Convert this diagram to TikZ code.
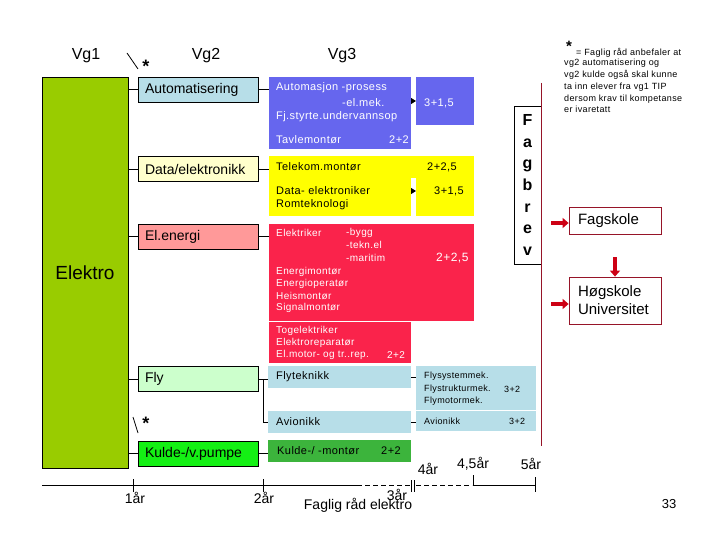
\documentclass[tikz,border=0pt]{standalone}
\usepackage{fontspec}
\setmainfont{Liberation Sans}
\newfontfamily\spaced[LetterSpace=4]{Liberation Sans}
\usetikzlibrary{arrows.meta}
\definecolor{vgonegreen}{RGB}{153,204,0}
\definecolor{autoblue}{RGB}{183,222,232}
\definecolor{datayellow}{RGB}{255,255,204}
\definecolor{energipink}{RGB}{255,153,153}
\definecolor{flygreen}{RGB}{204,255,204}
\definecolor{kuldegreen}{RGB}{20,240,20}
\definecolor{progblue}{RGB}{102,102,238}
\definecolor{progyellow}{RGB}{255,255,0}
\definecolor{progred}{RGB}{250,35,75}
\definecolor{proggreen}{RGB}{60,180,60}
\definecolor{fagred}{RGB}{150,20,40}
\definecolor{arrowred}{RGB}{205,0,20}
\tikzset{
    vgtitle/.style = {font=\fontsize{16}{18}\selectfont},
    elektrobox/.style = {rectangle, draw=black, line width=0.8pt, fill=vgonegreen, font=\fontsize{19}{21}\selectfont},
    vgbox/.style = {rectangle, draw=black, line width=0.8pt, minimum height=25pt, text width=106pt, inner xsep=7pt, align=left, font=\fontsize{14}{16}\selectfont},
    progbox/.style = {rectangle, inner sep=0pt, outer sep=0pt, anchor=north west},
    progtext/.style = {anchor=west, inner sep=0pt, font=\spaced\fontsize{11}{13}\selectfont},
    redtext/.style = {anchor=west, inner sep=0pt, text=white, font=\spaced\fontsize{10}{12}\selectfont},
    smalltext/.style = {anchor=west, inner sep=0pt, font=\spaced\fontsize{9}{10}\selectfont},
    fagbrevbox/.style = {rectangle, draw=black, line width=0.8pt, fill=white, minimum width=27pt, minimum height=158pt, align=center, font=\bfseries\fontsize{16}{21.7}\selectfont},
    skolebox/.style = {rectangle, draw=fagred, line width=0.8pt, minimum width=92pt, text width=74pt, inner xsep=9pt, align=left, font=\fontsize{15}{18}\selectfont},
    starmark/.style = {inner sep=0pt, font=\bfseries\fontsize{18}{18}\selectfont},
    yeartext/.style = {inner sep=0pt, font=\fontsize{14}{16}\selectfont},
    edgen/.style = {line width=0.8pt},
    edgetip/.style = {-{Triangle[length=5pt,width=6pt]}, line width=0.8pt},
    edger/.style = {-{Triangle[length=6pt,width=10pt]}, line width=3.5pt, arrowred},
    fagline/.style = {line width=0.9pt, fagred}
}
\begin{document}
\begin{tikzpicture}[x=1pt, y=-1pt]
  \useasboundingbox (0,0) rectangle (720,540);

  \node[vgtitle] (vg1) at (86,56) {Vg1};
  \node[vgtitle] (vg2) at (206,56) {Vg2};
  \node[vgtitle] (vg3) at (342,56) {Vg3};

  \node[elektrobox, minimum width=86pt, minimum height=391pt] (elektro) at (85,272.5) {Elektro};

  % Vg2
  \node[vgbox, fill=autoblue] (auto) at (198,89.5) {Automatisering};
  \node[vgbox, fill=datayellow] (data) at (198,169) {Data/elektronikk};
  \node[vgbox, fill=energipink] (energi) at (198,236.5) {El.energi};
  \node[vgbox, fill=flygreen] (fly) at (198,379) {Fly};
  \node[vgbox, fill=kuldegreen] (kulde) at (198,453.5) {Kulde-/v.pumpe};

  \draw[edgen] (127,53) -- (138,69);
  \node[starmark] (stara) at (146,66) {*};
  \draw[edgen] (133,417) -- (138,433);
  \node[starmark] (starb) at (146,423) {*};

  % Vg3
  \node[progbox, fill=progblue, minimum width=142pt, minimum height=72pt] (autoprog) at (269,77) {};
  \node[progbox, fill=progblue, minimum width=58pt, minimum height=48pt] (autofag) at (416,77) {};
  \node[progbox, fill=progyellow, minimum width=142pt, minimum height=60pt] (dataprog) at (269,156) {};
  \node[progbox, fill=progyellow, minimum width=58pt, minimum height=60pt] (datafag) at (416,156) {};
  \fill[progyellow] (410.5,156) rectangle (416.5,178);
  \node[progbox, fill=progred, minimum width=205pt, minimum height=97pt] (energiprog) at (269,224) {};
  \node[progbox, fill=progred, minimum width=142pt, minimum height=41pt] (togprog) at (269,322) {};
  \node[progbox, fill=autoblue, minimum width=143pt, minimum height=22pt] (flyprog) at (268,366) {};
  \node[progbox, fill=autoblue, minimum width=143pt, minimum height=22pt] (avprog) at (268,411) {};
  \node[progbox, fill=autoblue, minimum width=120pt, minimum height=44pt] (flyfag) at (416,366) {};
  \node[progbox, fill=autoblue, minimum width=120pt, minimum height=20pt] (avfag) at (416,411) {};
  \node[progbox, fill=proggreen, minimum width=143pt, minimum height=22pt] (kuldeprog) at (268,440) {};

  \node[progtext, text=white] (t1) at (276,88) {Automasjon -prosess};
  \node[progtext, text=white] (t2) at (342,103) {-el.mek.};
  \node[progtext, text=white] (t3) at (276,117) {Fj.styrte.undervannsop};
  \node[progtext, text=white] (t4) at (276,140) {Tavlemontør};
  \node[progtext, text=white] (t5) at (389,140) {2+2};
  \node[progtext, text=white] (t6) at (424,103) {3+1,5};
  \node[progtext] (t7) at (276,167) {Telekom.montør};
  \node[progtext] (t8) at (427,167) {2+2,5};
  \node[progtext] (t9) at (276,191) {Data- elektroniker};
  \node[progtext] (t10) at (276,205) {Romteknologi};
  \node[progtext] (t11) at (434,191) {3+1,5};
  \node[redtext] (r1) at (276,233) {Elektriker};
  \node[redtext] (r2) at (346,233) {-bygg};
  \node[redtext] (r3) at (346,245) {-tekn.el};
  \node[redtext] (r4) at (346,258) {-maritim};
  \node[redtext, font=\spaced\fontsize{12}{14}\selectfont] (r5) at (436,258) {2+2,5};
  \node[redtext] (r6) at (276,272) {Energimontør};
  \node[redtext] (r7) at (276,284) {Energioperatør};
  \node[redtext] (r8) at (276,296) {Heismontør};
  \node[redtext] (r9) at (276,308) {Signalmontør};
  \node[redtext] (r10) at (276,331) {Togelektriker};
  \node[redtext] (r11) at (276,343) {Elektroreparatør};
  \node[redtext] (r12) at (276,355) {El.motor- og tr..rep.};
  \node[redtext] (r13) at (387,355) {2+2};
  \node[progtext] (f1) at (276,377) {Flyteknikk};
  \node[progtext] (f2) at (276,422) {Avionikk};
  \node[smalltext] (f3) at (424,376) {Flysystemmek.};
  \node[smalltext] (f4) at (424,389) {Flystrukturmek.};
  \node[smalltext] (f5) at (504,389) {3+2};
  \node[smalltext] (f6) at (424,401) {Flymotormek.};
  \node[smalltext] (f7) at (424,421) {Avionikk};
  \node[smalltext] (f8) at (509,421) {3+2};
  \node[progtext] (k1) at (277,451) {Kulde-/ -montør};
  \node[progtext] (k2) at (381,451) {2+2};

  % connectors
  \foreach \n in {auto,data,energi,fly,kulde}
    \draw[edgen] (elektro.east |- \n) -- (\n);
  \draw[edgen] (auto) -- (auto -| autoprog.west);
  \draw[edgen] (data) -- (data -| dataprog.west);
  \draw[edgen] (energi) -- (energi -| energiprog.west);
  \draw[edgen] (kulde) -- (kulde -| kuldeprog.west);
  \draw[edgen] (fly.east) -- (fly.east -| flyprog.west);
  \draw[edgen] (fly.east) -- ++(5,0) |- (avprog.west);
  \draw[edgen] (flyprog.east) -- (flyprog.east -| flyfag.west);
  \draw[edgen] (avprog.east) -- (avprog.east -| avfag.west);
  \draw[edgetip] (autoprog.east |- autofag.west) -- (autofag.west);
  \coordinate (datatip) at (416,191);
  \draw[edgetip] (dataprog.east |- datatip) -- (datatip);

  % fagbrev
  \node[fagbrevbox] (fagbrev) at (527.5,185) {F\\a\\g\\b\\r\\e\\v};
  \draw[fagline] (541.5,83) -- (541.5,446);
  \node[skolebox, minimum height=27pt] (fagskole) at (615,220.5) {Fagskole};
  \node[skolebox, minimum height=47pt] (hoegskole) at (615,300.5) {Høgskole\\Universitet};
  \coordinate (fagin) at (551,223);
  \coordinate (hoegin) at (551,304);
  \coordinate (hoegtop) at (615,257);
  \draw[edger] (fagin) -- (fagskole.west |- fagin);
  \draw[edger] (hoegin) -- (hoegskole.west |- hoegin);
  \draw[edger] (hoegtop) -- (hoegskole);

  % note
  \node[starmark, font=\bfseries\fontsize{15}{15}\selectfont] (starc) at (569,46) {*};
  \node[anchor=west, inner sep=0pt, font=\spaced\fontsize{9}{11.8}\selectfont] (note1) at (576,53) {= Faglig råd anbefaler at};
  \node[anchor=north west, inner sep=0pt, align=left, font=\spaced\fontsize{9}{11.8}\selectfont] (note2) at (564,59)
    {vg2 automatisering og\\vg2 kulde også skal kunne\\ta inn elever fra vg1 TIP\\dersom krav til kompetanse\\er ivaretatt};

  % timeline
  \draw[edgen] (42,485) -- (357,485);
  \draw[edgen, dash pattern=on 5pt off 3pt] (357,485) -- (410,485);
  \draw[edgen, dash pattern=on 5pt off 3pt] (416,485) -- (472,485);
  \draw[edgen] (473,485) -- (535,485);
  \draw[edgen] (133,479) -- (133,492);
  \draw[edgen] (263,479) -- (263,492);
  \draw[edgen] (411,480) -- (411,492);
  \draw[edgen] (414,480) -- (414,492);
  \draw[edgen] (473,475) -- (473,485);
  \draw[edgen] (535,477) -- (535,492);
  \node[yeartext] (y1) at (135,498) {1år};
  \node[yeartext] (y2) at (264,498) {2år};
  \node[yeartext] (y3) at (397,495) {3år};
  \node[yeartext] (y4) at (428,469) {4år};
  \node[yeartext] (y45) at (473,464) {4,5år};
  \node[yeartext] (y5) at (531,464) {5år};
  \node[yeartext] (faglig) at (358,505) {Faglig råd elektro};
  \node[inner sep=0pt, font=\fontsize{13}{15}\selectfont] (page) at (669,504) {33};
\end{tikzpicture}
\end{document}
